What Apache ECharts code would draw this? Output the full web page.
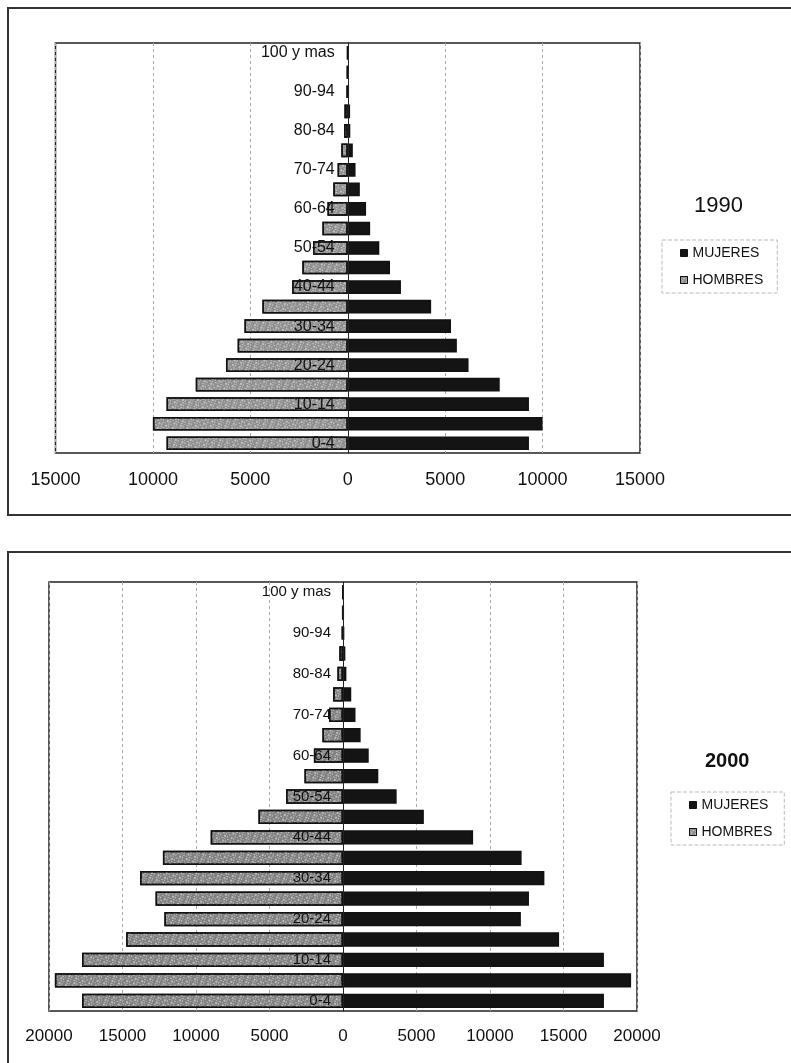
<!DOCTYPE html>
<html>
<head>
<meta charset="utf-8">
<script src="https://cdn.jsdelivr.net/npm/echarts@6/dist/echarts.min.js"></script>
<style>
html,body{margin:0;padding:0;background:#fff;}
#c{width:791px;height:1063px;}
</style>
</head>
<body>
<div id="c"></div>
<script>
const categories = ['0-4','5-9','10-14','15-19','20-24','25-29','30-34','35-39','40-44','45-49','50-54','55-59','60-64','65-69','70-74','75-79','80-84','85-89','90-94','95-99','100 y mas'];

const hombres1990 = [9300,10000,9300,7800,6250,5650,5300,4380,2850,2330,1780,1300,1040,740,520,330,190,170,60,40,20];
const mujeres1990 = [9300,10000,9300,7800,6200,5600,5300,4280,2730,2170,1620,1150,940,620,400,260,130,120,60,40,30];

const hombres2000 = [17750,19600,17750,14750,12150,12750,13800,12250,9000,5750,3870,2620,1980,1400,950,670,380,250,90,40,20];
const mujeres2000 = [17750,19600,17750,14700,12100,12650,13700,12150,8850,5500,3650,2400,1750,1200,850,560,230,160,80,40,20];

const titles = ['1990', '2000'];
const seriesNames = ['MUJERES', 'HOMBRES'];

const FONT = '"Liberation Sans", Arial, sans-serif';
const neg = a => a.map(v => -v);

const chart = echarts.init(document.getElementById('c'), null, {renderer: 'canvas'});

const G = [
  {left: 55.5, top: 43, width: 584.5, height: 410},
  {left: 49, top: 582, width: 588, height: 429}
];

const speckle = {
  symbol: 'rect', symbolSize: 1, color: 'rgba(235,235,235,0.55)',
  dashArrayX: [[1, 2, 2, 1], [2, 1, 1, 3]], dashArrayY: [1, 1, 2, 1], rotation: 0.35
};

function xAxisFor(gridIndex, lim, fs, margin) {
  return {
    type: 'value', gridIndex: gridIndex, min: -lim, max: lim, interval: 5000,
    axisLine: {show: false}, axisTick: {show: false},
    axisLabel: {formatter: v => String(Math.abs(v)), fontFamily: FONT, fontSize: fs, color: '#111', margin: margin, showMinLabel: true, showMaxLabel: true},
    splitLine: {show: true, lineStyle: {color: '#aaa', type: [3, 3], width: 1}}
  };
}
function yAxisFor(gridIndex, fs, margin) {
  const g = G[gridIndex];
  return {
    type: 'category', gridIndex: gridIndex, data: categories, z: 10,
    position: 'left', offset: -(g.width / 2),
    axisLine: {show: true, onZero: false, lineStyle: {color: '#222', width: 1}},
    axisTick: {show: false},
    axisLabel: {interval: 1, fontFamily: FONT, fontSize: fs, color: '#111', margin: margin},
    splitLine: {show: false}
  };
}
function barSeries(name, xi, data, color, stackName, decal) {
  const s = {
    name: name, type: 'bar', xAxisIndex: xi, yAxisIndex: xi, stack: stackName,
    data: data, barWidth: '70%',
    itemStyle: {color: color, borderColor: '#111', borderWidth: 1.5},
    emphasis: {disabled: true}
  };
  if (decal) s.itemStyle.decal = decal;
  return s;
}

chart.setOption({
  animation: false,
  backgroundColor: '#fff',
  title: [
    {text: titles[0], left: 694, top: 195, padding: 0, textStyle: {fontFamily: FONT, fontSize: 22, fontWeight: 'normal', color: '#111'}},
    {text: titles[1], left: 705, top: 751, padding: 0, textStyle: {fontFamily: FONT, fontSize: 20, fontWeight: 'bold', color: '#111'}}
  ],
  legend: [
    {data: seriesNames, orient: 'vertical', left: 662, top: 240, padding: [6, 14, 6, 18], itemGap: 13,
     icon: 'rect', itemWidth: 7, itemHeight: 7, itemStyle: {borderWidth: 1, borderColor: '#111'},
     borderColor: '#bbb', borderWidth: 1, borderType: 'dashed',
     textStyle: {fontFamily: FONT, fontSize: 14, color: '#111'}, selectedMode: false},
    {data: seriesNames, orient: 'vertical', left: 671, top: 792, padding: [6, 12, 6, 18], itemGap: 13,
     icon: 'rect', itemWidth: 7, itemHeight: 7, itemStyle: {borderWidth: 1, borderColor: '#111'},
     borderColor: '#bbb', borderWidth: 1, borderType: 'dashed',
     textStyle: {fontFamily: FONT, fontSize: 14, color: '#111'}, selectedMode: false}
  ],
  graphic: [
    {type: 'rect', shape: {x: 8, y: 8, width: 820, height: 507}, style: {fill: 'none', stroke: '#333', lineWidth: 2}, silent: true},
    {type: 'rect', shape: {x: 8, y: 552, width: 820, height: 560}, style: {fill: 'none', stroke: '#333', lineWidth: 2}, silent: true}
  ],
  grid: [
    Object.assign({show: true, borderColor: '#222', borderWidth: 1.5, backgroundColor: 'transparent', containLabel: false, outerBoundsMode: 'none'}, G[0]),
    Object.assign({show: true, borderColor: '#222', borderWidth: 1.5, backgroundColor: 'transparent', containLabel: false, outerBoundsMode: 'none'}, G[1])
  ],
  xAxis: [xAxisFor(0, 15000, 18, 18), xAxisFor(1, 20000, 17, 17)],
  yAxis: [yAxisFor(0, 16, 13), yAxisFor(1, 15, 12)],
  series: [
    barSeries('MUJERES', 0, mujeres1990, '#141414', 'a'),
    barSeries('HOMBRES', 0, neg(hombres1990), '#8e8e8e', 'a', speckle),
    barSeries('MUJERES', 1, mujeres2000, '#141414', 'b'),
    barSeries('HOMBRES', 1, neg(hombres2000), '#808080', 'b', speckle)
  ]
});
</script>
</body>
</html>
